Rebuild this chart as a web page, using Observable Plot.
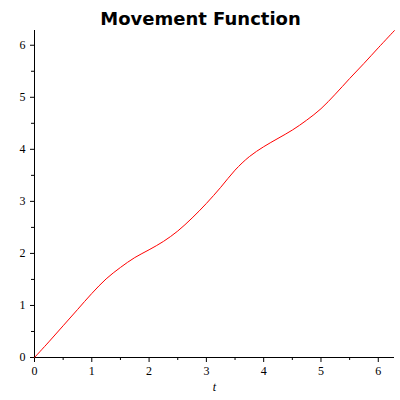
<!DOCTYPE html>
<html>
<head>
<meta charset="utf-8">
<script src="https://cdn.jsdelivr.net/npm/d3@7"></script>
<script src="https://cdn.jsdelivr.net/npm/@observablehq/plot@0.6"></script>
<style>
  html, body { margin: 0; padding: 0; background: #fff; }
  #chart svg { display: block; }
</style>
</head>
<body>
<div id="chart"></div>
<script>
const title = "Movement Function";
const xLabel = "t";
const tValues = [0, 0.25, 0.5, 0.75, 1, 1.25, 1.5, 1.75, 2, 2.25, 2.5, 2.75, 3, 3.25, 3.5, 3.75, 4, 4.25, 4.5, 4.75, 5, 5.25, 5.5, 5.75, 6, 6.283];
const yValues = [0, 0.30, 0.61, 0.92, 1.23, 1.51, 1.73, 1.92, 2.07, 2.23, 2.43, 2.68, 2.96, 3.27, 3.60, 3.86, 4.05, 4.21, 4.37, 4.56, 4.78, 5.06, 5.36, 5.65, 5.95, 6.283];
const majorTicks = [0, 1, 2, 3, 4, 5, 6];
const minorTicks = [0.5, 1.5, 2.5, 3.5, 4.5, 5.5];

const data = tValues.map((t, i) => ({t, y: yValues[i]}));
const serif = "'Liberation Serif', 'DejaVu Serif', serif";

const chart = Plot.plot({
  width: 400,
  height: 400,
  marginLeft: 34,
  marginRight: 6,
  marginTop: 30,
  marginBottom: 43,
  style: {fontFamily: serif, fontSize: "12px", color: "#000", background: "#fff"},
  x: {domain: [0, 2 * Math.PI]},
  y: {domain: [0, 2 * Math.PI]},
  marks: [
    Plot.axisX({ticks: minorTicks, tickSize: 3, text: null, label: null}),
    Plot.axisY({ticks: minorTicks, tickSize: 3, text: null, label: null}),
    Plot.axisX({ticks: majorTicks, tickSize: 5, tickPadding: 4, tickFormat: d => String(d), label: null, fontSize: 12}),
    Plot.axisY({ticks: majorTicks, tickSize: 4, tickPadding: 5, tickFormat: d => String(d), label: null, fontSize: 12}),
    Plot.ruleY([0], {stroke: "#000", strokeWidth: 1}),
    Plot.ruleX([0], {stroke: "#000", strokeWidth: 1}),
    Plot.line(data, {x: "t", y: "y", stroke: "#ff0000", strokeWidth: 1, curve: "catmull-rom"}),
    Plot.text([xLabel], {frameAnchor: "bottom", dy: 33, fontStyle: "italic", fontSize: 12, fontFamily: serif, fill: "#000"}),
    Plot.text([title], {frameAnchor: "top", dx: -14, dy: -18, fontWeight: "bold", fontSize: 18, fontFamily: "'DejaVu Sans', sans-serif", fill: "#000"})
  ]
});
document.getElementById("chart").appendChild(chart);
</script>
</body>
</html>
